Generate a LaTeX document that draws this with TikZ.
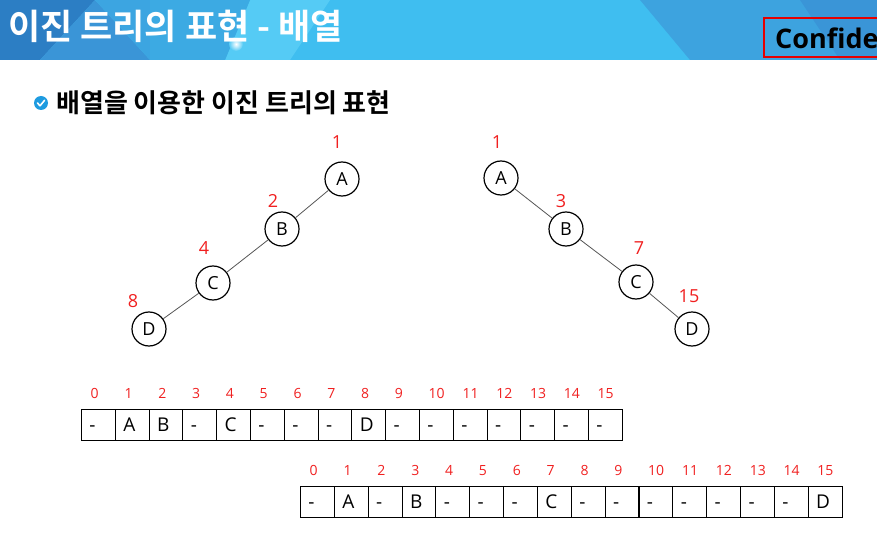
\documentclass[tikz,border=0pt]{standalone}
\usepackage{fontspec}
\setmainfont{Open Sans}
\newfontfamily\kr{Noto Sans CJK KR}[BoldFont={Noto Sans CJK KR Bold}]
\definecolor{hdrbase}{HTML}{3FBEF0}
\definecolor{hdrdark}{HTML}{2C7EC4}
\definecolor{hdrmid}{HTML}{3A95D7}
\definecolor{hdrlight}{HTML}{55CBF5}
\definecolor{hdrright}{HTML}{3DA3DF}
\definecolor{chk}{HTML}{1E9BE0}
\definecolor{edgegray}{HTML}{555555}
\definecolor{idxred}{HTML}{F02020}
\tikzset{
  treenode/.style={circle, draw=black, line width=1.2pt, fill=white, minimum size=34pt, inner sep=0pt, text height=13pt, text depth=0pt, font=\fontsize{18}{20}\selectfont},
  treeedge/.style={draw=edgegray, line width=0.8pt},
  treelbl/.style={text=idxred, font=\fontsize{18}{20}\selectfont, inner sep=0pt, text height=13pt, text depth=0pt},
  cell/.style={draw=black, line width=0.9pt, minimum height=31pt, text width=17.8pt, inner xsep=8pt, inner ysep=0pt, align=left, text height=13.6pt, text depth=0pt, font=\fontsize{19}{21}\selectfont},
  idx/.style={text=idxred, anchor=west, inner sep=0pt, text height=10pt, text depth=0pt, font=\fontsize{14}{16}\selectfont}
}
\begin{document}
\begin{tikzpicture}[x=1pt,y=-1pt]
\useasboundingbox (0,0) rectangle (877,545);
\begin{scope}
\clip (0,0) rectangle (877,545);
% header
\fill[hdrbase] (0,0) rectangle (877,60);
\fill[hdrdark] (0,0) -- (95,0) -- (40,60) -- (0,60) -- cycle;
\fill[hdrmid] (95,0) -- (150,60) -- (40,60) -- cycle;
\fill[hdrmid!60!hdrbase] (150,0) -- (95,0) -- (150,60) -- cycle;
\fill[hdrlight] (250,0) -- (330,0) -- (290,60) -- (225,60) -- cycle;
\fill[hdrmid!50!hdrbase] (150,0) -- (250,0) -- (225,60) -- (150,60) -- cycle;
\fill[hdrright] (640,0) -- (877,0) -- (877,60) -- (690,60) -- cycle;
\fill[hdrmid] (800,0) -- (877,0) -- (877,60) -- (840,60) -- cycle;
\shade[inner color=white, outer color=hdrlight] (236,44) circle (7);
\node[anchor=west, text=white, inner sep=0pt, font=\kr\bfseries\fontsize{35}{37}\selectfont] (title) at (8,26) {이진 트리의 표현 - 배열};
\draw[red!90!black, line width=2pt] (764,18) rectangle (885,57);
\node[anchor=west, inner sep=0pt, font=\bfseries\fontsize{27}{29}\selectfont] (conf) at (775,38) {Confidential};
\end{scope}
% subtitle
\fill[chk] (41,103) circle (7);
\draw[white, line width=1.6pt, line cap=round, line join=round] (37.5,103) -- (40,105.8) -- (44.6,100.3);
\node[anchor=west, inner sep=0pt, font=\kr\bfseries\fontsize{26}{28}\selectfont] (sub) at (56,103) {배열을 이용한 이진 트리의 표현};
% left tree
\node[treenode] (la) at (342,179) {A};
\node[treenode] (lb) at (282,229) {B};
\node[treenode] (lc) at (213,283) {C};
\node[treenode] (ld) at (149,329) {D};
\draw[treeedge] (la) -- (lb);
\draw[treeedge] (lb) -- (lc);
\draw[treeedge] (lc) -- (ld);
\node[treelbl] (l1) at (337,142) {1};
\node[treelbl] (l2) at (273,201) {2};
\node[treelbl] (l4) at (204,248) {4};
\node[treelbl] (l8) at (133,301) {8};
% right tree
\node[treenode] (ra) at (501,178) {A};
\node[treenode] (rb) at (566,229) {B};
\node[treenode] (rc) at (636,282) {C};
\node[treenode] (rd) at (692,329) {D};
\draw[treeedge] (ra) -- (rb);
\draw[treeedge] (rb) -- (rc);
\draw[treeedge] (rc) -- (rd);
\node[treelbl] (r1) at (497,142) {1};
\node[treelbl] (r3) at (561,201) {3};
\node[treelbl] (r7) at (639,248) {7};
\node[treelbl] (r15) at (689,296) {15};
% array 1
\foreach \v [count=\i from 0] in {-,A,B,-,C,-,-,-,D,-,-,-,-,-,-,-} {
  \node[cell, anchor=north west] (p\i) at ({81+\i*33.8},408.5) {\v};
  \node[idx] (pi\i) at ({81+\i*33.8+9.5},393) {\i};
}
% array 2
\foreach \v [count=\i from 0] in {-,A,-,B,-,-,-,C,-,-,-,-,-,-,-,D} {
  \node[cell, anchor=north west] (q\i) at ({300+\i*33.85},486) {\v};
  \node[idx] (qi\i) at ({300+\i*33.85+9.5},470) {\i};
}
\end{tikzpicture}
\end{document}
